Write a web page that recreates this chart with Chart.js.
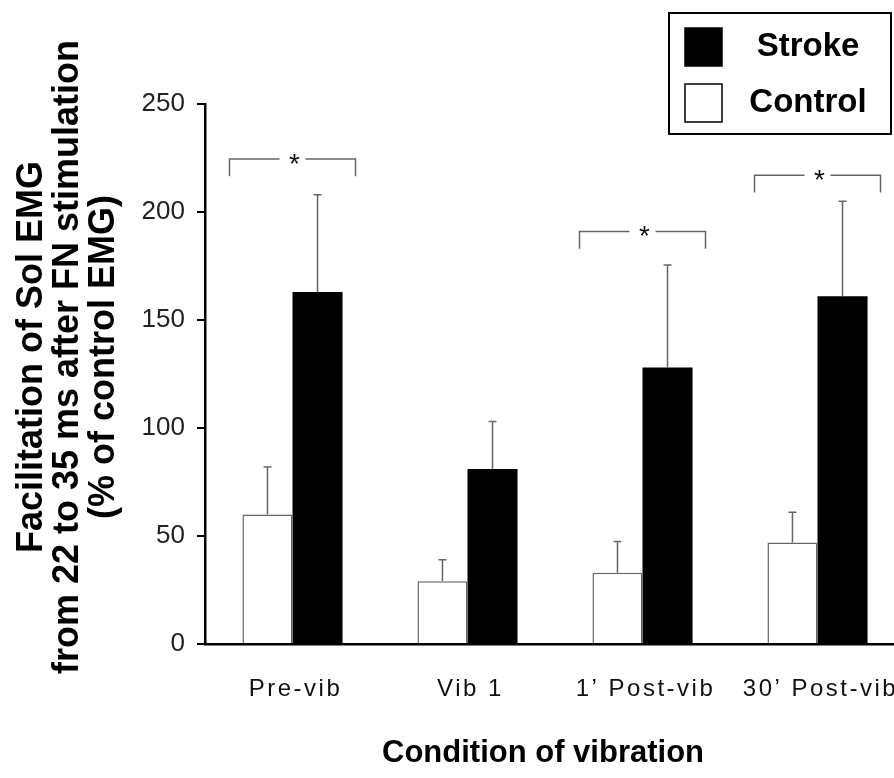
<!DOCTYPE html>
<html>
<head>
<meta charset="utf-8">
<script src="https://cdn.jsdelivr.net/npm/chart.js@4"></script>
<style>
  html, body { margin: 0; padding: 0; background: #fff; overflow: hidden; }
  #wrap { position: absolute; left: 0; top: 0; }
  canvas { display: block; }
</style>
</head>
<body>
<div id="wrap"><canvas id="emgChart" width="960" height="778"></canvas></div>
<script>
/* =========================
   DATA
========================= */

const conditions = ['Pre-vib', 'Vib 1', '1\u2019 Post-vib', '30\u2019 Post-vib'];

const controlMean = [60, 29, 33, 47];
const controlSE = [22, 10, 14.5, 14];

const strokeMean = [163, 81, 128, 161];
const strokeSE = [45, 22, 47.5, 44];

const yTicks = [0, 50, 100, 150, 200, 250];

// significance brackets: level of the bar, level of the leg ends (null = none)
const bracketTop = [224.5, null, 191, 217];
const bracketLeg = [216.5, null, 183, 209];

const yTitle = [
  'Facilitation of Sol EMG',
  'from 22 to 35 ms after FN stimulation',
  '(% of control EMG)'
];
const xTitle = 'Condition of vibration';

const FONT = "Arial, 'Liberation Sans', Helvetica, sans-serif";

/* =========================
   PLUGINS
========================= */

// one-sided error bars (mean + SE)
const errorBarPlugin = {
  id: 'errorBars',
  afterDatasetsDraw(chart) {
    const ctx = chart.ctx;
    const y = chart.scales.y;
    const errs = [controlSE, strokeSE];
    ctx.save();
    ctx.strokeStyle = '#666';
    ctx.lineWidth = 1.5;
    chart.data.datasets.forEach((ds, di) => {
      const meta = chart.getDatasetMeta(di);
      meta.data.forEach((bar, i) => {
        const top = y.getPixelForValue(ds.data[i] + errs[di][i]);
        ctx.beginPath();
        ctx.moveTo(bar.x, bar.y);
        ctx.lineTo(bar.x, top);
        ctx.moveTo(bar.x - 4, top);
        ctx.lineTo(bar.x + 4, top);
        ctx.stroke();
      });
    });
    ctx.restore();
  }
};

// brackets with asterisks over the significant pairs
const bracketPlugin = {
  id: 'brackets',
  afterDatasetsDraw(chart) {
    const ctx = chart.ctx;
    const x = chart.scales.x;
    const y = chart.scales.y;
    const half = x.getPixelForTick(1) - x.getPixelForTick(0);
    ctx.save();
    ctx.strokeStyle = '#666';
    ctx.lineWidth = 1.5;
    ctx.fillStyle = '#111';
    ctx.font = `28px ${FONT}`;
    ctx.textAlign = 'center';
    ctx.textBaseline = 'alphabetic';
    bracketTop.forEach((lvl, i) => {
      if (lvl === null) return;
      const cx = x.getPixelForTick(i);
      const l = cx - half * 0.36;
      const r = cx + half * 0.36;
      const yt = y.getPixelForValue(lvl);
      const yl = y.getPixelForValue(bracketLeg[i]);
      const gap = 13;
      ctx.beginPath();
      ctx.moveTo(l, yl);
      ctx.lineTo(l, yt);
      ctx.lineTo(cx - gap, yt);
      ctx.moveTo(cx + gap, yt);
      ctx.lineTo(r, yt);
      ctx.lineTo(r, yl);
      ctx.stroke();
      ctx.fillText('*', cx + 2, yt + 14);
    });
    ctx.restore();
  }
};

// category labels, axis titles and the boxed legend
const labelsPlugin = {
  id: 'labels',
  afterDraw(chart) {
    const ctx = chart.ctx;
    const x = chart.scales.x;
    ctx.save();

    // category labels (spaced out)
    ctx.fillStyle = '#111';
    ctx.font = `24px ${FONT}`;
    ctx.letterSpacing = '2.5px';
    ctx.textAlign = 'center';
    ctx.textBaseline = 'middle';
    conditions.forEach((c, i) => {
      ctx.fillText(c, x.getPixelForTick(i) + 3, 689);
    });
    ctx.letterSpacing = '0px';

    // x title
    ctx.fillStyle = '#000';
    ctx.font = `bold 31px ${FONT}`;
    ctx.fillText(xTitle, 543, 753);

    // y title, three rotated lines
    ctx.font = `bold 36px ${FONT}`;
    const lineX = [32, 68, 104];
    yTitle.forEach((t, i) => {
      ctx.save();
      ctx.translate(lineX[i], 357);
      ctx.rotate(-Math.PI / 2);
      ctx.fillText(t, 0, 0);
      ctx.restore();
    });

    // legend box
    ctx.lineWidth = 2;
    ctx.strokeStyle = '#000';
    ctx.strokeRect(669, 13, 222, 121);

    const items = [chart.data.datasets[1], chart.data.datasets[0]];
    items.forEach((ds, i) => {
      const top = 28 + i * 56;
      ctx.fillStyle = ds.backgroundColor;
      ctx.fillRect(685, top, 37, 38);
      ctx.lineWidth = 1.5;
      ctx.strokeStyle = '#000';
      ctx.strokeRect(685, top, 37, 38);
      ctx.fillStyle = '#000';
      ctx.font = `bold 33px ${FONT}`;
      ctx.textAlign = 'center';
      ctx.fillText(ds.label, 808, top + 19);
    });

    ctx.restore();
  }
};

/* =========================
   CHART
========================= */

function createChart() {

  const ctx = document.getElementById('emgChart').getContext('2d');

  new Chart(ctx, {
    type: 'bar',

    data: {
      labels: conditions,
      datasets: [
        {
          label: 'Control',
          data: controlMean,
          backgroundColor: '#fff',
          borderColor: '#666',
          borderWidth: 1.5,
          borderSkipped: 'bottom',
          categoryPercentage: 0.572,
          barPercentage: 1.0
        },
        {
          label: 'Stroke',
          data: strokeMean,
          backgroundColor: '#000',
          borderColor: '#000',
          borderWidth: 0,
          categoryPercentage: 0.572,
          barPercentage: 1.0
        }
      ]
    },

    options: {
      responsive: false,
      animation: false,
      layout: {
        padding: { left: 0, top: 104, right: 55, bottom: 0 }
      },

      scales: {
        x: {
          grid: { display: false },
          border: { display: true, color: '#000', width: 2.5 },
          ticks: { display: false },
          afterFit(scale) { scale.height = 134; }
        },

        y: {
          min: 0,
          max: 250,
          afterBuildTicks(scale) {
            scale.ticks = yTicks.map(v => ({ value: v }));
          },
          grid: {
            display: true,
            drawOnChartArea: false,
            drawTicks: true,
            tickLength: 8,
            color: '#000',
            lineWidth: 2
          },
          border: { display: true, color: '#000', width: 2.5 },
          ticks: {
            padding: 12,
            color: '#222',
            font: { family: FONT, size: 26 }
          },
          afterFit(scale) { scale.width = 205; }
        }
      },

      plugins: {
        legend: { display: false },
        tooltip: { enabled: false }
      }
    },

    plugins: [errorBarPlugin, bracketPlugin, labelsPlugin]
  });
}

createChart();
</script>
</body>
</html>
